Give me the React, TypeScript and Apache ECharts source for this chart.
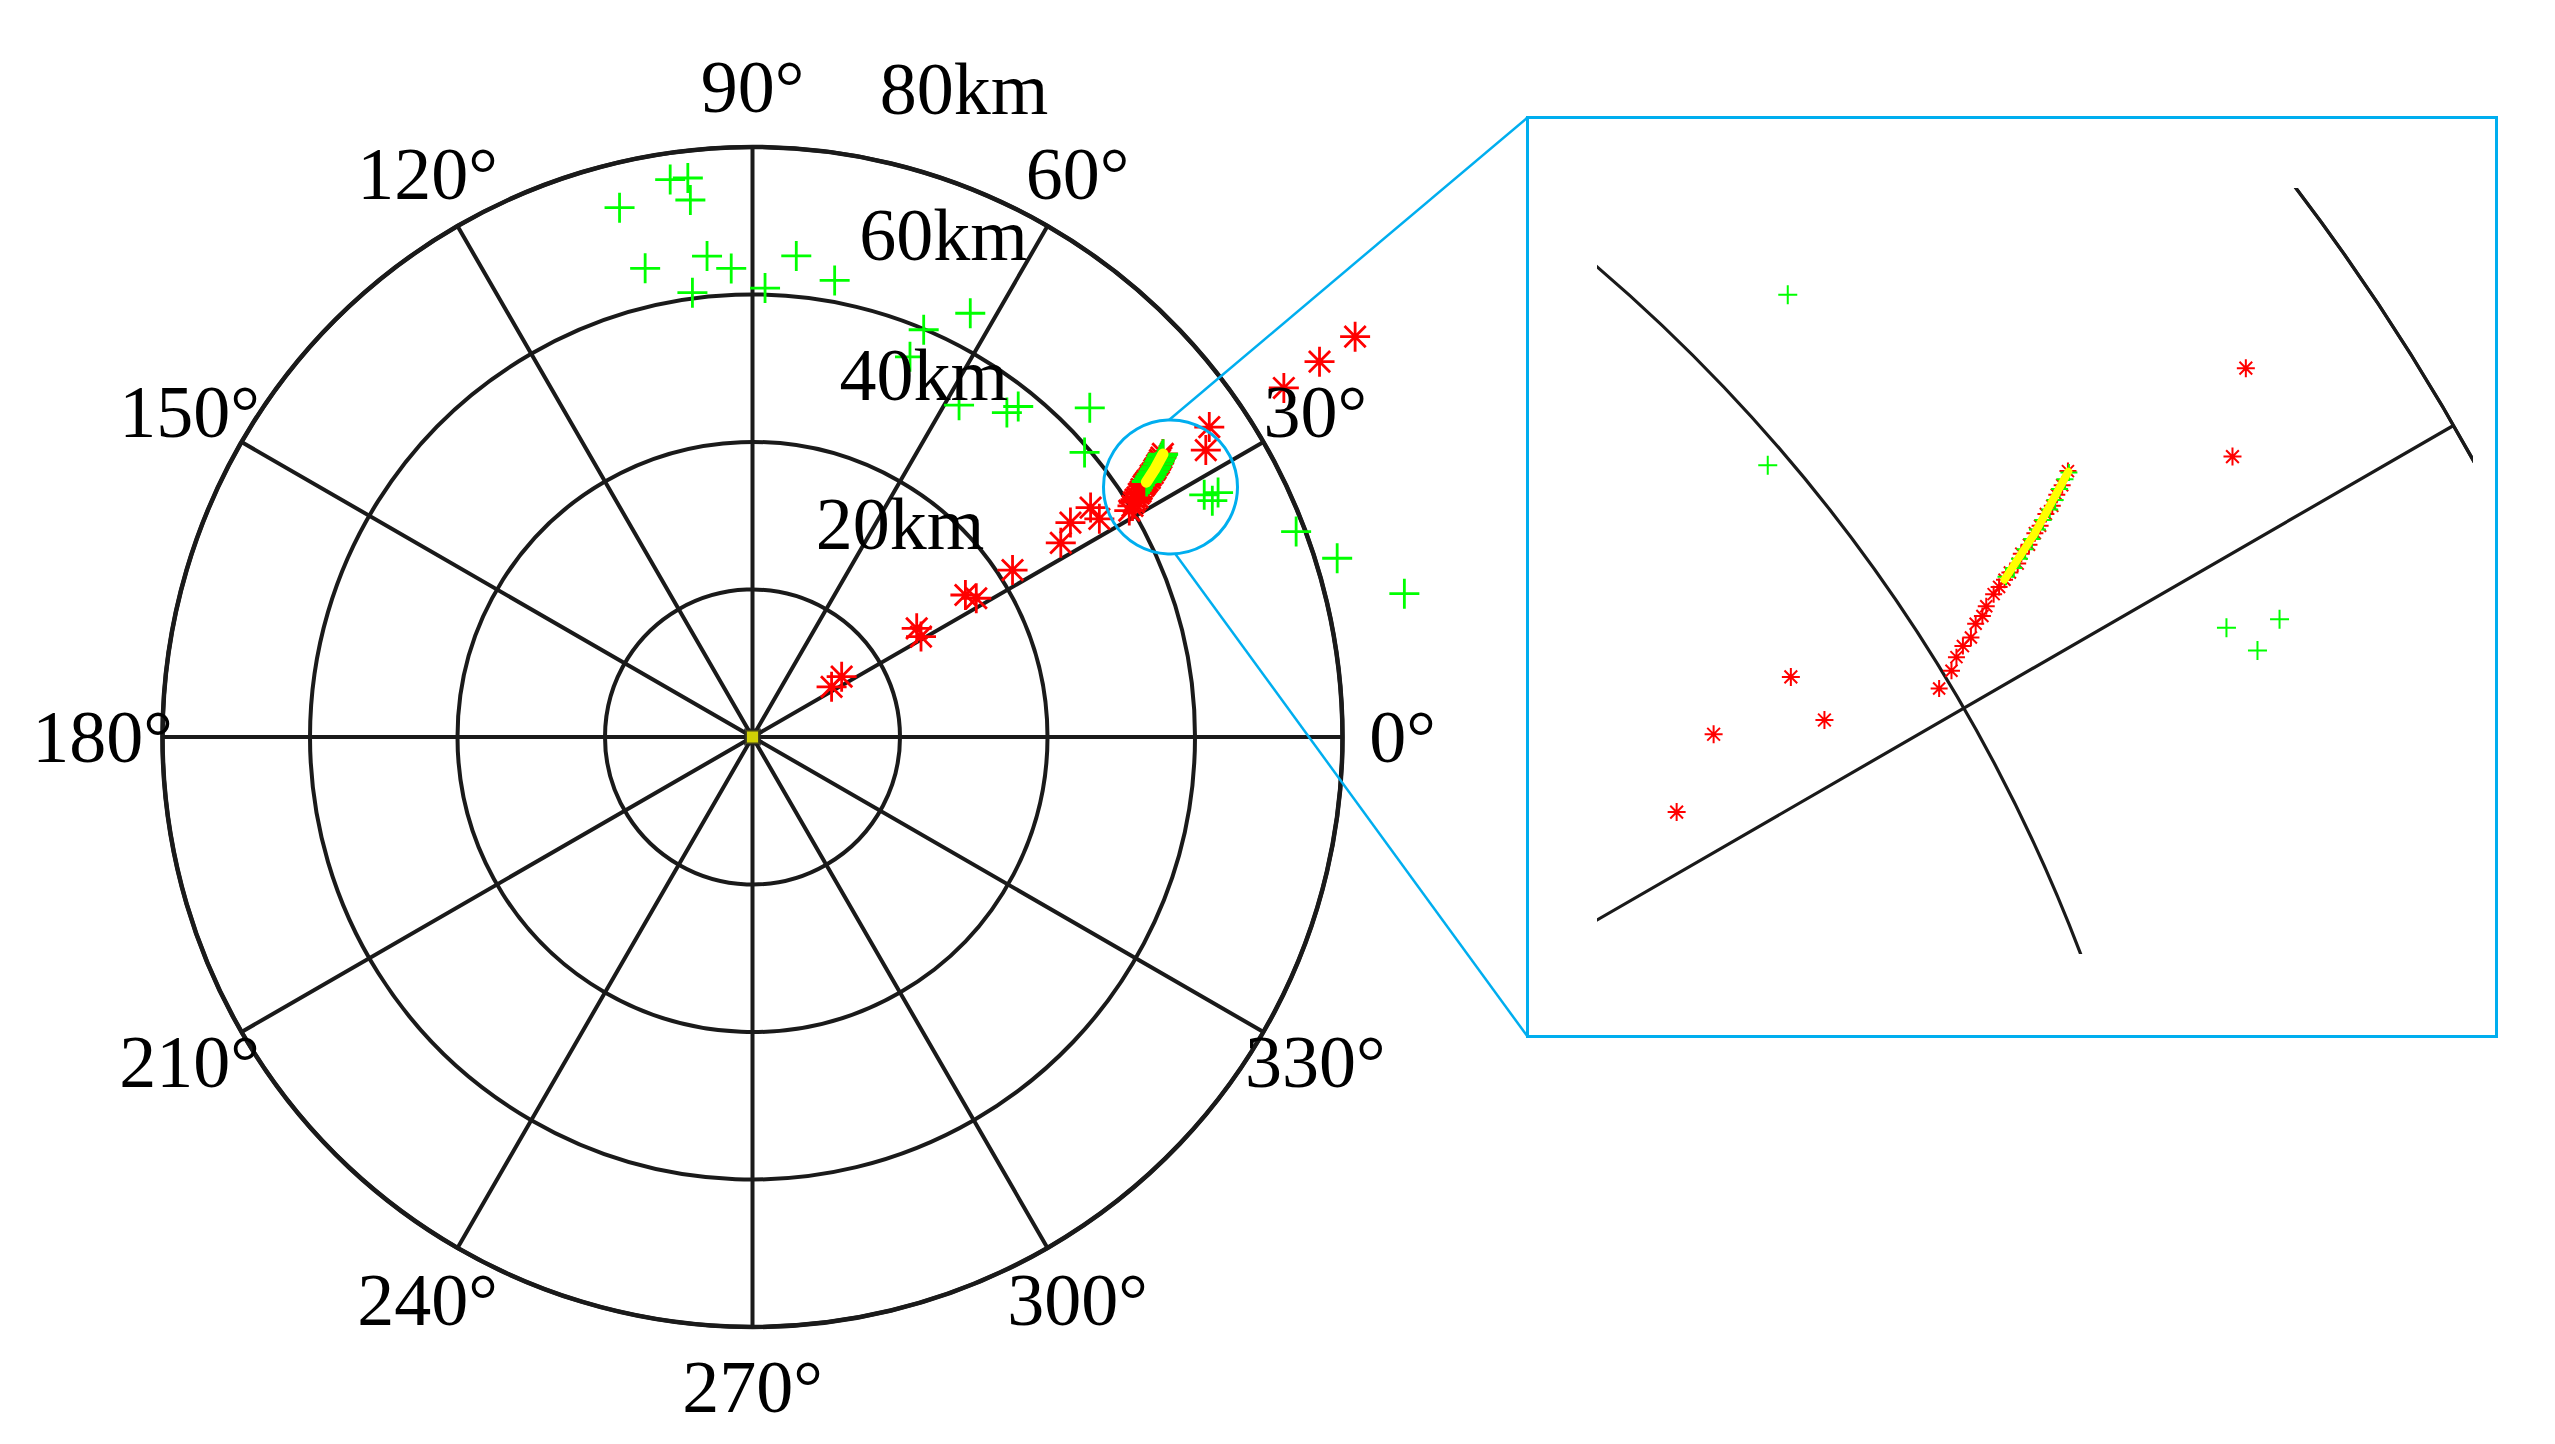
import React, { useEffect, useRef } from 'react';
import * as echarts from 'echarts';

// ---------------- data ----------------
// azimuth ticks (deg) and their labels
const angleTicks = [0, 30, 60, 90, 120, 150, 180, 210, 240, 270, 300, 330];
const angleLabels = angleTicks.map((a) => `${a}°`);
// range rings
const ringValues = [20, 40, 60, 80];
const ringLabels = ['20km', '40km', '60km', '80km'];

// points as [range km, azimuth deg]
const greenPoints = [
  [76.4, 98.4], [76.3, 96.6], [73.3, 96.6], [74.0, 104.1], [65.5, 95.4],
  [63.6, 92.6], [65.2, 102.9], [60.8, 97.7], [60.9, 88.4], [65.5, 84.8],
  [62.9, 79.8], [64.6, 62.8], [59.9, 67.2], [55.8, 67.5], [53.0, 58.1],
  [55.9, 51.9], [57.5, 51.2], [63.9, 44.3], [59.3, 40.6], [69.5, 28.2],
  [71.3, 27.7], [70.1, 27.2], [78.8, 20.7], [82.9, 17.0], [90.5, 12.4],
];
const redPoints = [
  [98.1, 33.6], [92.2, 33.5], [86.2, 33.3], [74.85, 34.16], [72.74, 32.33],
  [55.4, 34.16], [55.56, 32.17], [52.0, 34.0], [49.4, 32.2], [41.9, 32.7],
  [34.7, 33.7], [35.7, 31.8], [26.7, 33.5], [26.6, 30.8], [14.6, 34.1], [12.7, 32.4],
];
const redTrack = [
  [59.6, 31.0], [60.3, 31.3], [60.7, 31.6], [61.1, 31.8], [61.5, 31.9],
  [61.9, 32.2], [62.25, 32.3], [62.55, 32.5], [63.0, 32.7], [63.3, 32.8],
  [63.6, 32.9], [63.9, 33.0], [64.3, 33.1], [64.6, 33.3], [65.0, 33.4],
  [65.4, 33.6], [65.7, 33.7], [66.1, 33.9], [66.45, 34.0], [66.8, 34.2],
  [67.15, 34.35], [67.6, 34.6],
];
const greenTrack = [
  [63.7, 32.95], [64.1, 33.05], [64.45, 33.2], [64.8, 33.35], [65.2, 33.5],
  [65.55, 33.65], [65.9, 33.8], [66.3, 33.95], [66.65, 34.1], [67.0, 34.3],
  [67.35, 34.45], [67.6, 34.55],
];
const yellowTrack = [[63.6, 32.9], [65.4, 33.6], [67.6, 34.58]];
const radarSite = [[0, 0]];

// ---------------- layout ----------------
const MAIN_CENTER = [752.5, 737];
const MAIN_RADIUS = 590;
const LABEL_RADIUS = 650;
const ringLabelOffsets = [[147.5, -213], [171.2, -362], [191, -502], [211.5, -648]];
const INSET_BOX = { left: 1597, top: 188, width: 876, height: 766 };
const INSET_CENTER = [494.9 - 1597, 1556.3 - 188];
const INSET_RADIUS = 2261.6;
const BLUE = '#00aeef';
const GRID = '#1a1a1a';
const FONT = '"Liberation Serif", "Times New Roman", serif';

const PLUS = 'path://M0,10L20,10M10,0L10,20';
const STAR = 'path://M0,10L20,10M10,0L10,20M2.93,2.93L17.07,17.07M2.93,17.07L17.07,2.93';

function scatter(data: number[][], symbol: string, color: string, size: number, width: number) {
  return {
    type: 'scatter',
    coordinateSystem: 'polar',
    data,
    symbol,
    symbolSize: size,
    clip: false,
    silent: true,
    itemStyle: { color, borderColor: color, borderWidth: width, opacity: 1 },
    emphasis: { disabled: true },
  };
}

function axes(lineW: number, outerW: number) {
  return {
    angleAxis: {
      type: 'value', min: 0, max: 360, interval: 30, startAngle: 0, clockwise: false,
      axisLine: { show: true, lineStyle: { color: GRID, width: outerW } },
      axisTick: { show: false }, axisLabel: { show: false },
      splitLine: { show: true, lineStyle: { color: GRID, width: lineW } },
    },
    radiusAxis: {
      type: 'value', min: 0, max: 80, interval: 20,
      axisLine: { show: false }, axisTick: { show: false }, axisLabel: { show: false },
      splitLine: { show: true, lineStyle: { color: GRID, width: lineW } },
    },
  };
}

function seriesSet(s: { red: number; redTrack: number; green: number; greenTrack: number; lw: number; yw: number; site: boolean }) {
  const list: any[] = [
    scatter(redPoints, STAR, '#ff0000', s.red, s.lw),
    scatter(redTrack, STAR, '#ff0000', s.redTrack, s.lw),
    scatter(greenPoints, PLUS, '#00ff00', s.green, s.lw),
    scatter(greenTrack, PLUS, '#00ff00', s.greenTrack, s.lw),
    {
      type: 'line', coordinateSystem: 'polar', data: yellowTrack, symbol: 'none', silent: true,
      lineStyle: { color: '#ffff00', width: s.yw, cap: 'round' },
    },
  ];
  if (s.site) {
    list.push({
      type: 'scatter', coordinateSystem: 'polar', data: radarSite, symbol: 'rect', symbolSize: 14,
      silent: true, itemStyle: { color: '#ffff00', borderColor: '#222', borderWidth: 3 },
    });
  }
  return list;
}

function text(str: string, x: number, y: number) {
  return {
    type: 'text', x, y, silent: true, z: 50,
    style: {
      text: str, fill: '#000', fontSize: 74, fontFamily: FONT,
      align: 'center', verticalAlign: 'middle', textAlign: 'center', textVerticalAlign: 'middle',
    },
  };
}

function mainOption() {
  const [cx, cy] = MAIN_CENTER;
  const graphic: any[] = [];
  angleTicks.forEach((a, i) => {
    const t = (a * Math.PI) / 180;
    graphic.push(text(angleLabels[i], cx + LABEL_RADIUS * Math.cos(t), cy - LABEL_RADIUS * Math.sin(t)));
  });
  ringValues.forEach((_, i) => {
    graphic.push(text(ringLabels[i], cx + ringLabelOffsets[i][0], cy + ringLabelOffsets[i][1]));
  });
  graphic.push(
    { type: 'rect', shape: { x: 1527.5, y: 117.5, width: 969, height: 919 }, style: { fill: 'none', stroke: BLUE, lineWidth: 3 }, z: 60 },
    { type: 'circle', shape: { cx: 1170.5, cy: 487, r: 67 }, style: { fill: 'none', stroke: BLUE, lineWidth: 3 }, z: 60 },
    { type: 'line', shape: { x1: 1169, y1: 420, x2: 1527.5, y2: 117.5 }, style: { stroke: BLUE, lineWidth: 2.5 }, z: 60 },
    { type: 'line', shape: { x1: 1175, y1: 553.5, x2: 1527.5, y2: 1036.5 }, style: { stroke: BLUE, lineWidth: 2.5 }, z: 60 },
  );
  return {
    animation: false,
    polar: { center: MAIN_CENTER, radius: MAIN_RADIUS },
    ...axes(4, 4.5),
    series: seriesSet({ red: 30, redTrack: 30, green: 30, greenTrack: 30, lw: 2.8, yw: 11, site: true }),
    graphic,
  };
}

function insetOption() {
  return {
    animation: false,
    polar: { center: INSET_CENTER, radius: INSET_RADIUS },
    ...axes(3.2, 3.2),
    series: seriesSet({ red: 18, redTrack: 17, green: 19, greenTrack: 17, lw: 2, yw: 8, site: false }),
  };
}

export default function App() {
  const mainRef = useRef<HTMLDivElement>(null);
  const insetRef = useRef<HTMLDivElement>(null);
  useEffect(() => {
    const main = echarts.init(mainRef.current!, null, { renderer: 'svg' });
    main.setOption(mainOption() as any);
    const inset = echarts.init(insetRef.current!, null, { renderer: 'svg' });
    inset.setOption(insetOption() as any);
    return () => {
      main.dispose();
      inset.dispose();
    };
  }, []);
  return (
    <div style={{ position: 'fixed', left: 0, top: 0, width: 2555, height: 1444, background: '#fff', overflow: 'hidden' }}>
      <div ref={mainRef} style={{ position: 'absolute', left: 0, top: 0, width: 2555, height: 1444 }} />
      <div
        ref={insetRef}
        style={{ position: 'absolute', left: INSET_BOX.left, top: INSET_BOX.top, width: INSET_BOX.width, height: INSET_BOX.height, overflow: 'hidden' }}
      />
    </div>
  );
}
